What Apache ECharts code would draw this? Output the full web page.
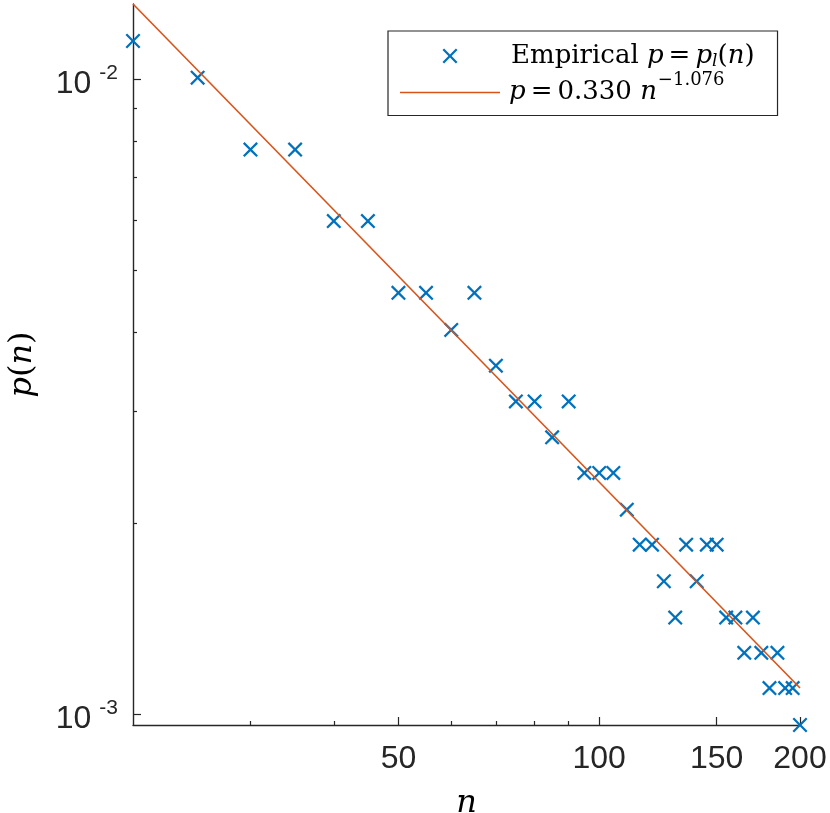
<!DOCTYPE html>
<html>
<head>
<meta charset="utf-8">
<script src="https://cdn.jsdelivr.net/npm/echarts@6/dist/echarts.min.js"></script>
<style>
  html, body { margin: 0; padding: 0; background: #fff; }
  #chart { width: 830px; height: 813px; }
</style>
</head>
<body>
<div id="chart"></div>
<script>
// sample sizes n and empirical probabilities p_l(n)
var nValues = [20, 25, 30, 35, 40, 45, 50, 55, 60, 65, 70, 75, 80, 85, 90, 95, 100, 105,
               110, 115, 120, 125, 130, 135, 140, 145, 150, 155, 160, 165, 170, 175, 180,
               185, 190, 195, 200];
var pValues = [0.01149, 0.01006, 0.00775, 0.00775, 0.00598, 0.00598, 0.00461, 0.00461,
               0.00403, 0.00461, 0.00354, 0.00311, 0.00311, 0.00273, 0.00311, 0.00240,
               0.00240, 0.00240, 0.00210, 0.00185, 0.00185, 0.00162, 0.00142, 0.00185,
               0.00162, 0.00185, 0.00185, 0.00142, 0.00142, 0.00125, 0.00142, 0.00125,
               0.00110, 0.00125, 0.00110, 0.00110, 0.000962];
// fitted power law, end points of the straight line
var fitN = [20, 200];
var fitP = [0.01314, 0.00110];

var xTickValues = [50, 100, 150, 200];
var xMinorTicks = [30, 40, 60, 70, 80, 90];
var yTickValues = [0.001, 0.01];
var yMinorTicks = [0.002, 0.003, 0.004, 0.005, 0.006, 0.007, 0.008, 0.009];

var axisColor = '#262626';
var serif = 'DejaVu Serif';
var sans = 'Liberation Sans';
// x marker as filled path
var crossPath = 'path://M1.6,0L7.5,5.9L13.4,0L15,1.6L9.1,7.5L15,13.4L13.4,15L7.5,9.1L1.6,15L0,13.4L5.9,7.5L0,1.6Z';
var linePath = 'path://M0,0L100,0L100,1.6L0,1.6Z';

var scatterData = nValues.map(function (n, i) { return [n, pValues[i]]; });
var fitData = fitN.map(function (n, i) { return [n, fitP[i]]; });

var legendRich = {
    first: { fontFamily: serif, fontSize: 26, lineHeight: 28, padding: [0, 0, 0, 6], color: '#000' },
    firstI: { fontFamily: serif, fontSize: 26, lineHeight: 28, fontStyle: 'italic', padding: [0, 0, 0, 4], color: '#000' },
    r: { fontFamily: serif, fontSize: 26, lineHeight: 28, color: '#000' },
    eq: { fontFamily: serif, fontSize: 26, lineHeight: 28, padding: [0, 5, 0, 5], color: '#000' },
    i: { fontFamily: serif, fontSize: 26, lineHeight: 28, fontStyle: 'italic', color: '#000' },
    sub: { fontFamily: serif, fontSize: 17, lineHeight: 14, fontStyle: 'italic', verticalAlign: 'bottom', color: '#000' },
    sup: { fontFamily: serif, fontSize: 18, height: 3, lineHeight: 3, verticalAlign: 'top', padding: [0, 0, 0, 1], color: '#000' }
};

var chart = echarts.init(document.getElementById('chart'));
var option = {
    animation: false,
    backgroundColor: '#fff',
    grid: { left: 133, right: 30, top: 4, bottom: 88, containLabel: false, outerBoundsMode: 'none' },
    legend: {
        orient: 'vertical',
        left: 388,
        top: 31,
        padding: [12, 23, 10, 12],
        itemGap: 1,
        itemWidth: 100,
        itemHeight: 15,
        borderColor: axisColor,
        borderWidth: 1.2,
        backgroundColor: '#fff',
        data: [
            { name: 'Empirical', icon: crossPath },
            { name: 'Fit', icon: linePath, itemStyle: { color: '#D95319' } }
        ],
        formatter: function (name) {
            if (name === 'Empirical') {
                return '{first|Empirical }{i|p}{eq|=}{i|p}{sub|l}{r|(}{i|n}{r|)}';
            }
            return '{firstI|p}{eq|=}{r|0.330 }{i|n}{sup|\u22121.076}';
        },
        textStyle: { fontFamily: serif, fontSize: 26, color: '#000', rich: legendRich }
    },
    xAxis: [{
        type: 'log',
        min: 20,
        max: 200,
        name: 'n',
        nameLocation: 'middle',
        nameGap: 63,
        nameTextStyle: { fontFamily: serif, fontStyle: 'italic', fontSize: 32, color: '#000' },
        axisLine: { lineStyle: { color: axisColor, width: 1.4 } },
        axisTick: { inside: true, length: 8, customValues: xTickValues, lineStyle: { color: axisColor, width: 1.2 } },
        axisLabel: {
            customValues: xTickValues,
            margin: 18,
            fontFamily: sans,
            fontSize: 32,
            color: axisColor
        },
        splitLine: { show: false }
    }, {
        type: 'log',
        min: 20,
        max: 200,
        position: 'bottom',
        axisLine: { show: false },
        axisTick: { inside: true, length: 4, customValues: xMinorTicks, lineStyle: { color: axisColor, width: 1.2 } },
        axisLabel: { show: false },
        splitLine: { show: false }
    }],
    yAxis: [{
        type: 'log',
        min: Math.min.apply(null, pValues),
        max: fitP[0],
        name: '{i|p}{r|(}{i|n}{r|)}',
        nameLocation: 'middle',
        nameGap: 94,
        nameTextStyle: {
            rich: {
                i: { fontFamily: serif, fontStyle: 'italic', fontSize: 32, color: '#000' },
                r: { fontFamily: serif, fontSize: 32, color: '#000' }
            }
        },
        axisLine: { lineStyle: { color: axisColor, width: 1.4 } },
        axisTick: { inside: true, length: 8, customValues: yTickValues, lineStyle: { color: axisColor, width: 1.2 } },
        axisLabel: {
            customValues: yTickValues,
            margin: 15,
            padding: [10, 0, 0, 0],
            formatter: function (v) {
                return '{b|10}{s|' + Math.round(Math.log10(v)) + '}';
            },
            rich: {
                b: { fontFamily: sans, fontSize: 32, lineHeight: 32, color: axisColor },
                s: { fontFamily: sans, fontSize: 21, height: 10, lineHeight: 10, verticalAlign: 'top', padding: [0, 0, 0, 8], color: axisColor }
            }
        },
        splitLine: { show: false }
    }, {
        type: 'log',
        min: Math.min.apply(null, pValues),
        max: fitP[0],
        position: 'left',
        axisLine: { show: false },
        axisTick: { inside: true, length: 4, customValues: yMinorTicks, lineStyle: { color: axisColor, width: 1.2 } },
        axisLabel: { show: false },
        splitLine: { show: false }
    }],
    series: [{
        name: 'Empirical',
        type: 'scatter',
        data: scatterData,
        symbol: crossPath,
        symbolSize: 15,
        clip: false,
        itemStyle: { color: '#0072BD', opacity: 1 }
    }, {
        name: 'Fit',
        type: 'line',
        data: fitData,
        symbol: 'none',
        clip: false,
        lineStyle: { color: '#D95319', width: 1.6 },
        itemStyle: { color: '#D95319' }
    }]
};
chart.setOption(option);
</script>
</body>
</html>
